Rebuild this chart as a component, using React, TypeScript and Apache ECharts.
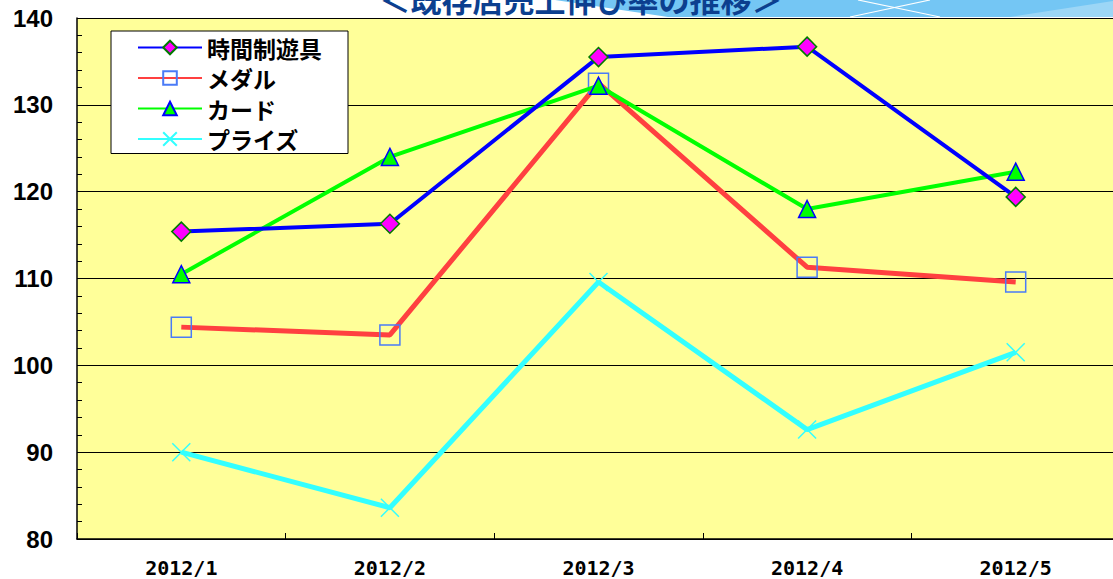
import React, { useEffect, useRef } from "react";
import * as echarts from "echarts";

const categories = ["2012/1", "2012/2", "2012/3", "2012/4", "2012/5"];
const seriesNames = ["時間制遊具", "メダル", "カード", "プライズ"];
const timeRental = [115.4, 116.3, 135.5, 136.7, 119.4];
const medal = [104.4, 103.5, 132.5, 111.3, 109.6];
const card = [110.5, 124.0, 132.2, 118.0, 122.3];
const prize = [90.0, 83.6, 109.6, 92.6, 101.5];
const yMin = 80;
const yMax = 140;
const yStep = 10;
const titleText = "＜既存店売上伸び率の推移＞";

export default function App() {
  const ref = useRef<HTMLDivElement>(null);
  useEffect(() => {
    if (!ref.current) return;
    const chart = echarts.init(ref.current, null, { renderer: "svg" });
    const jp = "'Noto Sans CJK JP', 'Noto Sans', sans-serif";
    chart.setOption({
      animation: false,
      backgroundColor: "#ffffff",
      graphic: [
        {
          type: "polygon",
          z: 0,
          shape: { points: [[555, 0], [1120, 0], [1120, 17], [668, 17]] },
          style: { fill: "#74c6f4" },
        },
        {
          type: "polygon",
          z: 0,
          shape: { points: [[1010, 17], [1120, 0], [1120, 17]] },
          style: { fill: "#9cd6f6" },
        },
        {
          type: "line",
          z: 1,
          shape: { x1: 850, y1: 17, x2: 930, y2: 0 },
          style: { stroke: "#ffffff", lineWidth: 1.2 },
        },
        {
          type: "line",
          z: 1,
          shape: { x1: 858, y1: 0, x2: 940, y2: 17 },
          style: { stroke: "#ffffff", lineWidth: 1.2 },
        },
        {
          type: "text",
          z: 2,
          x: 581,
          y: 14,
          style: {
            text: titleText,
            fill: "#0c3f8f",
            font: `bold 31px ${jp}`,
            align: "center",
            verticalAlign: "bottom",
          },
        },
      ],
      legend: {
        orient: "vertical",
        left: 111,
        top: 31,
        data: seriesNames,
        backgroundColor: "#ffffff",
        borderColor: "#000000",
        borderWidth: 1,
        padding: [5, 26, 3, 26],
        itemWidth: 64,
        itemHeight: 17,
        itemGap: 7.5,
        textStyle: {
          fontFamily: jp,
          fontWeight: "bold",
          fontSize: 23,
          color: "#000000",
        },
      },
      grid: {
        left: 77,
        top: 18,
        width: 1043,
        height: 521,
        show: true,
        backgroundColor: "#ffff99",
        borderWidth: 0,
      },
      xAxis: {
        type: "category",
        data: categories,
        boundaryGap: true,
        axisLine: { show: true, lineStyle: { color: "#000000", width: 1.5 } },
        axisTick: { show: true, inside: true, length: 6, lineStyle: { color: "#000000" } },
        axisLabel: {
          margin: 19,
          color: "#000000",
          fontFamily: "'DejaVu Sans Mono', monospace",
          fontWeight: "bold",
          fontSize: 20,
          lineHeight: 20,
        },
        splitLine: { show: false },
      },
      yAxis: {
        type: "value",
        min: yMin,
        max: yMax,
        interval: yStep,
        axisLine: { show: true, lineStyle: { color: "#000000", width: 1.5 } },
        axisTick: { show: true, inside: true, length: 5, lineStyle: { color: "#000000" } },
        minorTick: { show: true, splitNumber: 5, length: 5, lineStyle: { color: "#000000" } },
        axisLabel: {
          margin: 24,
          color: "#000000",
          fontFamily: "'Liberation Sans', Arial, sans-serif",
          fontWeight: "bold",
          fontSize: 24,
        },
        splitLine: { show: true, lineStyle: { color: "#000000", width: 1 } },
      },
      series: [
        {
          name: seriesNames[0],
          type: "line",
          data: timeRental,
          symbol: "diamond",
          symbolSize: 19,
          lineStyle: { color: "#0000ff", width: 4 },
          itemStyle: { color: "#ff00ff", borderColor: "#007a00", borderWidth: 1.5 },
          z: 5,
        },
        {
          name: seriesNames[1],
          type: "line",
          data: medal,
          symbol: "rect",
          symbolSize: 20,
          lineStyle: { color: "#ff4040", width: 5 },
          itemStyle: { color: "rgba(0,0,0,0)", borderColor: "#4a7bf7", borderWidth: 1.5 },
          z: 3,
        },
        {
          name: seriesNames[2],
          type: "line",
          data: card,
          symbol: "triangle",
          symbolSize: 17,
          lineStyle: { color: "#00ff00", width: 4 },
          itemStyle: { color: "#00ff00", borderColor: "#0000ff", borderWidth: 1.5 },
          z: 4,
        },
        {
          name: seriesNames[3],
          type: "line",
          data: prize,
          symbol: "path://M0,0L10,10M10,0L0,10",
          symbolSize: 18,
          lineStyle: { color: "#33ffff", width: 5 },
          itemStyle: { color: "#33ffff", borderColor: "#33ffff", borderWidth: 1.5 },
          z: 2,
        },
      ],
    });
    return () => chart.dispose();
  }, []);
  return (
    <div
      style={{
        position: "fixed",
        left: 0,
        top: 0,
        width: 1113,
        height: 579,
        overflow: "hidden",
      }}
    >
      <div ref={ref} style={{ width: 1120, height: 579 }} />
    </div>
  );
}
